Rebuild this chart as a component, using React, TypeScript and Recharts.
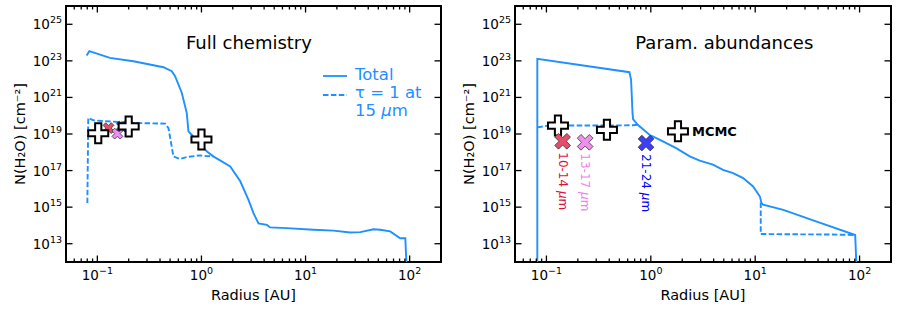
import React from 'react';
import { ComposedChart, Line, Scatter, XAxis, YAxis, ReferenceArea, Legend } from 'recharts';

const BLUE = '#1e90ff';
const FONT = '"DejaVu Sans", sans-serif';

// ---- Full chemistry panel ----
const fullTotalR = [0.0789, 0.0838, 0.132, 0.222, 0.431, 0.519, 0.558, 0.647, 0.723, 0.75, 0.78, 1.0, 1.13, 1.3, 1.89, 2.36, 2.83, 3.16, 3.53, 4.25, 4.57, 6.6, 11.9, 18.6, 26.9, 33.6, 45, 52, 65, 81, 90.8, 93];
const fullTotalN = [1.95e23, 3.4e23, 1.45e23, 9.5e22, 4.5e22, 2.7e22, 1.45e22, 1.8e21, 1.4e20, 1.4e19, 1.1e19, 2.4e18, 1.1e18, 6e17, 1.7e17, 2.6e16, 2.5e15, 4.7e14, 1.3e14, 1.07e14, 7.8e13, 7.1e13, 5.8e13, 5.2e13, 4.1e13, 4.3e13, 6.2e13, 5.8e13, 4.7e13, 2.0e13, 2.0e13, 1e12];
const fullTauR = [0.0802, 0.0818, 0.0916, 0.222, 0.448, 0.482, 0.538, 0.624, 0.723, 0.97, 1.12, 1.3];
const fullTauN = [1.66e15, 7.6e19, 5.6e19, 4e19, 3.7e19, 2.1e19, 6e17, 4.3e17, 5.5e17, 6.8e17, 6.2e17, 6e17];
const fullCrossR = [0.102, 0.2, 1.0];
const fullCrossN = [1.1e19, 2.6e19, 5e18];
const fullBandR = [0.128, 0.156, 0.172];
const fullBandN = [2.1e19, 1.05e19, 2.6e19];

// ---- Param. abundances panel ----
const paramTotalR = [0.0818, 0.0818, 0.624, 0.647, 0.668, 0.676, 0.75, 0.97, 1.21, 1.75, 2.36, 2.94, 3.94, 4.92, 6.14, 7.67, 9.55, 11.1, 11.5, 11.9, 18.6, 38.9, 90.8, 93];
const paramTotalN = [1e12, 1.3e23, 2.4e22, 9.5e21, 1.4e20, 6.5e19, 3.2e19, 9.1e18, 4.9e18, 1.7e18, 6e17, 3.5e17, 2.1e17, 1.1e17, 7.2e16, 3.9e16, 1.35e16, 3.8e15, 1.66e15, 1.35e15, 7.1e14, 1.6e14, 3.0e13, 1e12];
const paramTauR = [0.0818, 0.106, 0.4, 0.676, 0.75, 1.0, 11.3, 11.3, 18.6, 50, 90.8];
const paramTauN = [2.3e19, 2.9e19, 2.9e19, 3.0e19, 3.2e19, null, 1.8e15, 3.4e13, 3.3e13, 3.2e13, 3.0e13];
const paramCrossR = [0.129, 0.38, 1.82];
const paramCrossN = [2.9e19, 1.7e19, 1.4e19];
const paramCrossLabels = ['', '', 'MCMC'];
const paramBandR = [0.143, 0.235, 0.9];
const paramBandN = [4e18, 3.5e18, 3.2e18];

const bandLabels = ['10-14', '13-17', '21-24'];

const xTicks = [0.06, 0.07, 0.08, 0.09, 0.1, 0.2, 0.3, 0.4, 0.5, 0.6, 0.7, 0.8, 0.9, 1, 2, 3, 4, 5, 6, 7, 8, 9, 10, 20, 30, 40, 50, 60, 70, 80, 90, 100];
const yTicks = [1e13, 1e15, 1e17, 1e19, 1e21, 1e23, 1e25];

const BAND_FILL: Record<string, string> = { '10-14': '#e34f6b', '13-17': '#f08ef0', '21-24': '#3d3dfa' };
const BAND_TEXT: Record<string, string> = { '10-14': '#dc143c', '13-17': '#ee82ee', '21-24': '#0000ff' };

const zip = (r: number[], n: (number | null)[]) => r.map((v, i) => ({ r: v, n: n[i] }));

const PLOT_H = 256;

const plusPath = (cx: number, cy: number, L: number, w: number, rot: number) => {
  const pts = [
    [-w, -L], [w, -L], [w, -w], [L, -w], [L, w], [w, w],
    [w, L], [-w, L], [-w, w], [-L, w], [-L, -w], [-w, -w],
  ];
  const a = (rot * Math.PI) / 180;
  const c = Math.cos(a);
  const s = Math.sin(a);
  return (
    pts
      .map(([px, py], i) => `${i ? 'L' : 'M'}${(cx + px * c - py * s).toFixed(2)},${(cy + px * s + py * c).toFixed(2)}`)
      .join(' ') + ' Z'
  );
};

const supText = (v: number) => {
  const e = Math.round(Math.log10(v));
  return e < 0 ? `\u2212${-e}` : `${e}`;
};

const makeXTick = (plotH: number) => (props: any) => {
  const { x, y, payload } = props;
  const v = payload.value as number;
  const lg = Math.log10(v);
  const major = Math.abs(lg - Math.round(lg)) < 1e-6;
  const len = major ? 6.5 : 3.5;
  return (
    <g>
      <line x1={x} x2={x} y1={y} y2={y - len} stroke="#000" strokeWidth={1.3} />
      <line x1={x} x2={x} y1={y - plotH} y2={y - plotH + len} stroke="#000" strokeWidth={1.3} />
      {major && (
        <text x={x} y={y + 18} textAnchor="middle" fontFamily={FONT} fontSize={13.5} fill="#000">
          10<tspan dy={-6} fontSize={9.5}>{supText(v)}</tspan>
        </text>
      )}
    </g>
  );
};

const makeYTick = (plotW: number) => (props: any) => {
  const { x, y, payload } = props;
  const v = payload.value as number;
  return (
    <g>
      <line x1={x} x2={x + 6.5} y1={y} y2={y} stroke="#000" strokeWidth={1.3} />
      <line x1={x + plotW} x2={x + plotW - 6.5} y1={y} y2={y} stroke="#000" strokeWidth={1.3} />
      <text x={x - 4} y={y + 5} textAnchor="end" fontFamily={FONT} fontSize={13.5} fill="#000">
        10<tspan dy={-6} fontSize={9.5}>{supText(v)}</tspan>
      </text>
    </g>
  );
};

const CrossShape = (props: any) => {
  const { cx, cy, payload } = props;
  return (
    <g>
      <path d={plusPath(cx, cy, 10, 3.1, 0)} fill="#fff" stroke="#000" strokeWidth={2} />
      {payload.label ? (
        <text x={cx + 14} y={cy + 4.5} fontFamily={FONT} fontSize={13} fontWeight="bold" fill="#000">
          {payload.label}
        </text>
      ) : null}
    </g>
  );
};

const makeBandShape = (L: number, w: number, withLabel: boolean) => (props: any) => {
  const { cx, cy, payload } = props;
  const name = payload.band as string;
  const ty = cy + 11;
  return (
    <g>
      <path d={plusPath(cx, cy, L, w, 45)} fill={BAND_FILL[name]} stroke="#333" strokeWidth={0.8} />
      {withLabel && (
        <text
          x={cx}
          y={ty}
          transform={`rotate(90 ${cx} ${ty})`}
          fontFamily={FONT}
          fontSize={12}
          fill={BAND_TEXT[name]}
          dominantBaseline="central"
        >
          {name} <tspan fontStyle="italic">μ</tspan>m
        </text>
      )}
    </g>
  );
};

const LegendBox = () => (
  <svg width={120} height={64} style={{ display: 'block', overflow: 'visible' }}>
    <line x1={3} x2={27} y1={16} y2={16} stroke={BLUE} strokeWidth={1.8} />
    <text x={35} y={20} fontFamily={FONT} fontSize={16.5} fill={BLUE}>Total</text>
    <line x1={3} x2={27} y1={35} y2={35} stroke={BLUE} strokeWidth={1.8} strokeDasharray="5.5 2.4" />
    <text x={35} y={37.5} fontFamily={FONT} fontSize={16.5} fill={BLUE}>τ = 1 at</text>
    <text x={35} y={55.5} fontFamily={FONT} fontSize={16.5} fill={BLUE}>
      15 <tspan fontStyle="italic">μ</tspan>m
    </text>
  </svg>
);

interface PanelProps {
  width: number;
  marginLeft: number;
  marginRight: number;
  title: string;
  total: { r: number; n: number | null }[];
  tau: { r: number; n: number | null }[];
  crosses: { r: number; n: number; label: string }[];
  bands: { r: number; n: number; band: string }[];
  bigBands: boolean;
  bandsOnTop: boolean;
  legend: boolean;
}

const Panel = (p: PanelProps) => {
  const plotW = p.width - p.marginLeft - 56 - p.marginRight;
  const bandShape = p.bigBands ? makeBandShape(8.5, 2.6, true) : makeBandShape(5.8, 1.9, false);
  const bandSeries = (
    <Scatter key="bands" data={p.bands} dataKey="n" shape={bandShape} isAnimationActive={false} />
  );
  const crossSeries = (
    <Scatter key="crosses" data={p.crosses} dataKey="n" shape={CrossShape} isAnimationActive={false} />
  );
  return (
    <ComposedChart
      width={p.width}
      height={309}
      margin={{ top: 6, right: p.marginRight, bottom: 17, left: p.marginLeft }}
    >
      <XAxis
        dataKey="r"
        type="number"
        scale="log"
        domain={[0.05, 200]}
        allowDataOverflow
        ticks={xTicks}
        interval={0}
        tick={makeXTick(PLOT_H)}
        tickLine={false}
        tickSize={0}
        tickMargin={0}
        axisLine={false}
        height={30}
        label={(lp: any) => {
          const vb = lp.viewBox;
          return (
            <text x={vb.x + vb.width / 2} y={vb.y + 38} textAnchor="middle" fontFamily={FONT} fontSize={14.5} fill="#000">
              Radius [AU]
            </text>
          );
        }}
      />
      <YAxis
        dataKey="n"
        type="number"
        scale="log"
        domain={[1e12, 1e26]}
        allowDataOverflow
        ticks={yTicks}
        interval={0}
        tick={makeYTick(plotW)}
        tickLine={false}
        tickSize={0}
        tickMargin={0}
        axisLine={false}
        width={56}
        label={(lp: any) => {
          const vb = lp.viewBox;
          const lx = vb.x + vb.width - 41;
          const ly = vb.y + vb.height / 2;
          return (
            <text x={lx} y={ly} transform={`rotate(-90 ${lx} ${ly})`} textAnchor="middle" fontFamily={FONT} fontSize={14.5} fill="#000">
              N(H₂O) [cm⁻²]
            </text>
          );
        }}
      />
      <ReferenceArea
        x1={0.05}
        x2={200}
        y1={1e12}
        y2={1e26}
        fill="none"
        fillOpacity={0}
        stroke="#000"
        strokeWidth={2}
        label={(lp: any) => {
          const vb = lp.viewBox;
          return (
            <text x={vb.x + vb.width * 0.32} y={vb.y + 43.3} fontFamily={FONT} fontSize={18} fill="#000">
              {p.title}
            </text>
          );
        }}
      />
      <Line data={p.total} dataKey="n" type="linear" stroke={BLUE} strokeWidth={1.9} dot={false} isAnimationActive={false} />
      <Line
        data={p.tau}
        dataKey="n"
        type="linear"
        stroke={BLUE}
        strokeWidth={1.9}
        strokeDasharray="5.5 2.4"
        dot={false}
        connectNulls={false}
        isAnimationActive={false}
      />
      {p.bandsOnTop ? [crossSeries, bandSeries] : [bandSeries, crossSeries]}
      {p.legend && (
        <Legend
          layout="horizontal"
          verticalAlign="middle"
          align="center"
          content={() => <LegendBox />}
          wrapperStyle={{ left: 320, top: 60, width: 120, height: 64 }}
        />
      )}
    </ComposedChart>
  );
};

export default function App() {
  const fullCrosses = fullCrossR.map((r, i) => ({ r, n: fullCrossN[i], label: '' }));
  const fullBands = fullBandR.map((r, i) => ({ r, n: fullBandN[i], band: bandLabels[i] }));
  const paramCrosses = paramCrossR.map((r, i) => ({ r, n: paramCrossN[i], label: paramCrossLabels[i] }));
  const paramBands = paramBandR.map((r, i) => ({ r, n: paramBandN[i], band: bandLabels[i] }));
  return (
    <div style={{ position: 'absolute', left: 0, top: 0, width: 897, height: 309, display: 'flex', background: '#fff' }}>
      <Panel
        width={450}
        marginLeft={10}
        marginRight={9}
        title="Full chemistry"
        total={zip(fullTotalR, fullTotalN)}
        tau={zip(fullTauR, fullTauN)}
        crosses={fullCrosses}
        bands={fullBands}
        bigBands={false}
        bandsOnTop={false}
        legend
      />
      <Panel
        width={447}
        marginLeft={9}
        marginRight={6}
        title="Param. abundances"
        total={zip(paramTotalR, paramTotalN)}
        tau={zip(paramTauR, paramTauN)}
        crosses={paramCrosses}
        bands={paramBands}
        bigBands
        bandsOnTop
        legend={false}
      />
    </div>
  );
}
